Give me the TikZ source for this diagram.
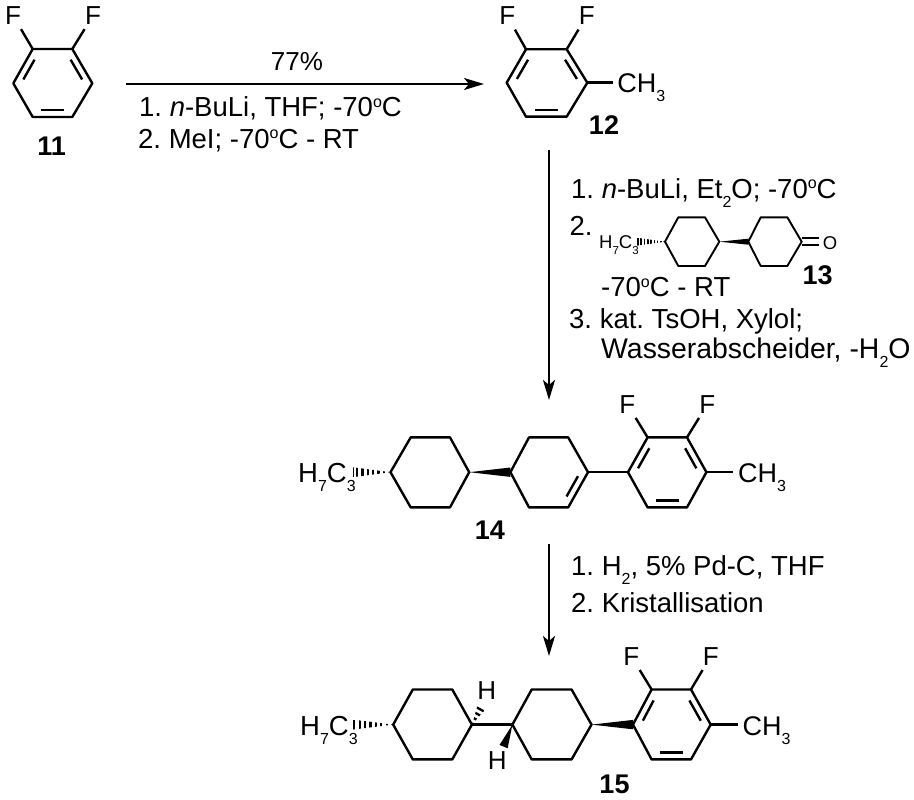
\documentclass[tikz,border=0pt]{standalone}
\usepackage{fontspec}
\setmainfont{Liberation Sans}
\usetikzlibrary{calc,arrows.meta}
\newcommand{\degC}{\raisebox{.33em}{\fontsize{16}{16}\selectfont o}C}
\newcommand{\lowsub}[1]{\raisebox{-.33em}{\fontsize{16}{16}\selectfont #1}}
\newcommand{\tinysub}[1]{\raisebox{-.33em}{\fontsize{11.5}{11.5}\selectfont #1}}
\newcommand{\innerbond}[3]{\draw [bond] ($(#1)!.14!(#2)!.2!(#3)$) -- ($(#2)!.14!(#1)!.2!(#3)$);}
\newcommand{\wedgebond}[3]{\fill ($(#1)$) -- ($(#2)!#3!90:(#1)$) -- ($(#2)!#3!-90:(#1)$) -- cycle;}
\newcommand{\hashbond}[4]{\begin{scope}
    \clip ($(#1)$) -- ($(#2)!#3!90:(#1)$) -- ($(#2)!#3!-90:(#1)$) -- cycle;
    \draw [line width = 2*#3, #4] (#1) -- (#2);
  \end{scope}}
\frenchspacing
\begin{document}
\begin{tikzpicture}[x = 1pt, y = -1pt, line width = 2.4pt,
                    bond/.style = {line width = 2.4pt, line join = round},
                    smallbond/.style = {line width = 1.9pt, line join = round},
                    hashwide/.style = {dash pattern = on 2.3pt off 3.1pt},
                    hashsmall/.style = {dash pattern = on 1.6pt off 1.7pt},
                    arrow/.style = {line width = 2.4pt, -{Stealth[length = 20pt, width = 12pt, inset = 5pt]}},
                    txt/.style = {inner sep = 0pt, anchor = base west, font = \fontsize{27.5}{27.5}\selectfont},
                    widetxt/.style = {inner sep = 0pt, anchor = base west, font = \fontsize{28.4}{28.4}\selectfont},
                    smalltxt/.style = {inner sep = 0pt, anchor = base west, font = \fontsize{18.5}{18.5}\selectfont},
                    atom/.style = {inner sep = 3.5pt, font = \fontsize{26}{26}\selectfont},
                    group/.style = {inner sep = 3.5pt, anchor = base west, font = \fontsize{27}{27}\selectfont},
                    cpd/.style = {inner sep = 0pt, font = \fontsize{27}{27}\selectfont\bfseries}]
  \useasboundingbox (0,0) rectangle (914,800);

  % 11
  \coordinate (R11a) at (32.7,49);
  \coordinate (R11b) at (72.3,49);
  \coordinate (R11c) at (92.3,83.3);
  \coordinate (R11d) at (72.3,117);
  \coordinate (R11e) at (32.7,117);
  \coordinate (R11f) at (13.3,83.3);
  \coordinate (C11) at (52.7,83.3);
  \node [atom] (F111) at (13,15.5) {F};
  \node [atom] (F112) at (93,15.5) {F};
  \node [cpd] (L11) at (51.7,146.7) {11};
  \draw [bond] (R11a)--(R11b)--(R11c)--(R11d)--(R11e)--(R11f)--cycle;
  \innerbond{R11a}{R11f}{C11}
  \innerbond{R11b}{R11c}{C11}
  \innerbond{R11d}{R11e}{C11}
  \draw [bond] (R11a)--(F111);
  \draw [bond] (R11b)--(F112);

  % 11 to 12
  \coordinate (A1s) at (126,84);
  \coordinate (A1e) at (484,84);
  \draw [arrow] (A1s)--(A1e);
  \node [inner sep = 0pt, font = \fontsize{26}{26}\selectfont] (T10) at (297,62) {77\%};
  \node [txt] (T11) at (138,117) {1. \textit{n}-BuLi, THF; -70\degC};
  \node [txt] (T12) at (137,148) {2. MeI; -70\degC{} - RT};

  % 12
  \coordinate (R12a) at (526,49.3);
  \coordinate (R12b) at (566.7,49.3);
  \coordinate (R12c) at (587.3,82.7);
  \coordinate (R12d) at (566.7,116.7);
  \coordinate (R12e) at (526,116.7);
  \coordinate (R12f) at (506.7,82.7);
  \coordinate (C12) at (547,82.7);
  \node [atom] (F121) at (507.3,16) {F};
  \node [atom] (F122) at (586.7,16) {F};
  \node [group] (M12) at (612.7,93) {CH\lowsub{3}};
  \node [cpd] (L12) at (604,125) {12};
  \draw [bond] (R12a)--(R12b)--(R12c)--(R12d)--(R12e)--(R12f)--cycle;
  \innerbond{R12a}{R12f}{C12}
  \innerbond{R12b}{R12c}{C12}
  \innerbond{R12d}{R12e}{C12}
  \draw [bond] (R12a)--(F121);
  \draw [bond] (R12b)--(F122);
  \draw [bond] (R12c)--(R12c -| M12.west);

  % 12 to 14
  \coordinate (A2s) at (549,150);
  \coordinate (A2e) at (549,400);
  \draw [arrow] (A2s)--(A2e);
  \node [txt] (T21) at (570,198) {1. \textit{n}-BuLi, Et\lowsub{2}O; -70\degC};
  \node [txt] (T22) at (568.3,235) {2.};
  \node [txt] (T23) at (600,296.7) {-70\degC{} - RT};
  \node [txt] (T24) at (568,328) {3. kat. TsOH, Xylol;};
  \node [widetxt] (T25) at (600,358) {Wasserabscheider, -H\lowsub{2}O};

  % 13
  \coordinate (P13a) at (678.3,217.3);
  \coordinate (P13b) at (705,217.3);
  \coordinate (P13c) at (719.3,241.7);
  \coordinate (P13d) at (705,266);
  \coordinate (P13e) at (678.3,266);
  \coordinate (P13f) at (665,241.7);
  \coordinate (Q13a) at (760.7,217.3);
  \coordinate (Q13b) at (787.3,217.3);
  \coordinate (Q13c) at (801.7,241.7);
  \coordinate (Q13d) at (787.3,266);
  \coordinate (Q13e) at (760.7,266);
  \coordinate (Q13f) at (748.3,241.7);
  \coordinate (H13) at (636.7,241.7);
  \node [smalltxt] (S13) at (598,248) {H\tinysub{7}C\tinysub{3}};
  \node [inner sep = 3pt, font = \fontsize{18.5}{18.5}\selectfont] (O13) at (830,242.7) {O};
  \node [cpd] (L13) at (817.7,275) {13};
  \draw [smallbond] (P13a)--(P13b)--(P13c)--(P13d)--(P13e)--(P13f)--cycle;
  \draw [smallbond] (Q13a)--(Q13b)--(Q13c)--(Q13d)--(Q13e)--(Q13f)--cycle;
  \wedgebond{P13c}{Q13f}{3pt}
  \hashbond{P13f}{H13}{4pt}{hashsmall}
  \draw [smallbond] ([yshift = 3.3pt]Q13c)--([yshift = 3.3pt]Q13c -| O13.west);
  \draw [smallbond] ([yshift = -3.3pt]Q13c)--([yshift = -3.3pt]Q13c -| O13.west);

  % 14
  \coordinate (P14a) at (410.7,437.4);
  \coordinate (P14b) at (450,437.4);
  \coordinate (P14c) at (469.2,472.2);
  \coordinate (P14d) at (450,507.4);
  \coordinate (P14e) at (410.7,507.4);
  \coordinate (P14f) at (390.5,472.2);
  \coordinate (Q14a) at (529,437.4);
  \coordinate (Q14b) at (568.2,437.4);
  \coordinate (Q14c) at (588,472.2);
  \coordinate (Q14d) at (568.2,507.4);
  \coordinate (Q14e) at (529,507.4);
  \coordinate (Q14f) at (510.4,472.2);
  \coordinate (R14a) at (647.6,437.4);
  \coordinate (R14b) at (687,437.4);
  \coordinate (R14c) at (706.4,472.2);
  \coordinate (R14d) at (687,507.4);
  \coordinate (R14e) at (647.6,507.4);
  \coordinate (R14f) at (628,472.2);
  \coordinate (C14q) at (549,472.3);
  \coordinate (C14r) at (667,472.3);
  \coordinate (H14) at (352.6,472.2);
  \node [txt] (S14) at (297,482.4) {H\lowsub{7}C\lowsub{3}};
  \node [atom] (F141) at (627.3,404.3) {F};
  \node [atom] (F142) at (707.4,404.3) {F};
  \node [group] (M14) at (733.4,482.4) {CH\lowsub{3}};
  \node [cpd] (L14) at (490,530) {14};
  \draw [bond] (P14a)--(P14b)--(P14c)--(P14d)--(P14e)--(P14f)--cycle;
  \draw [bond] (Q14a)--(Q14b)--(Q14c)--(Q14d)--(Q14e)--(Q14f)--cycle;
  \draw [bond] (R14a)--(R14b)--(R14c)--(R14d)--(R14e)--(R14f)--cycle;
  \innerbond{Q14c}{Q14d}{C14q}
  \innerbond{R14a}{R14f}{C14r}
  \innerbond{R14b}{R14c}{C14r}
  \innerbond{R14d}{R14e}{C14r}
  \wedgebond{P14c}{Q14f}{4.7pt}
  \hashbond{P14f}{H14}{5pt}{hashwide}
  \draw [bond] (Q14c)--(R14f);
  \draw [bond] (R14a)--(F141);
  \draw [bond] (R14b)--(F142);
  \draw [bond] (R14c)--(R14c -| M14.west);

  % 14 to 15
  \coordinate (A3s) at (549,544);
  \coordinate (A3e) at (549,656);
  \draw [arrow] (A3s)--(A3e);
  \node [txt] (T31) at (570,575) {1. H\lowsub{2}, 5\% Pd-C, THF};
  \node [txt] (T32) at (570,612) {2. Kristallisation};

  % 15
  \coordinate (P15a) at (412.8,689.5);
  \coordinate (P15b) at (452.3,689.5);
  \coordinate (P15c) at (471.9,724.6);
  \coordinate (P15d) at (452.3,759.4);
  \coordinate (P15e) at (412.8,759.4);
  \coordinate (P15f) at (393.2,724.6);
  \coordinate (Q15a) at (531.7,689.5);
  \coordinate (Q15b) at (571.6,689.5);
  \coordinate (Q15c) at (591.5,724.6);
  \coordinate (Q15d) at (571.6,759.4);
  \coordinate (Q15e) at (531.7,759.4);
  \coordinate (Q15f) at (512.4,724.6);
  \coordinate (R15a) at (651.6,689.5);
  \coordinate (R15b) at (691,689.5);
  \coordinate (R15c) at (710.7,724.6);
  \coordinate (R15d) at (691,759.4);
  \coordinate (R15e) at (651.6,759.4);
  \coordinate (R15f) at (633,724.6);
  \coordinate (C15r) at (672,724.6);
  \coordinate (H151) at (352.6,724.6);
  \coordinate (H152) at (481.7,707);
  \coordinate (W15) at (503.6,746.6);
  \node [txt] (S15) at (299,735.4) {H\lowsub{7}C\lowsub{3}};
  \node [atom] (F151) at (631.4,656.4) {F};
  \node [atom] (F152) at (710.7,656.4) {F};
  \node [group] (M15) at (737.8,735.4) {CH\lowsub{3}};
  \node [atom] (H1) at (486.8,690.8) {H};
  \node [atom] (H2) at (497.2,761) {H};
  \node [cpd] (L15) at (614.5,784.7) {15};
  \draw [bond] (P15a)--(P15b)--(P15c)--(P15d)--(P15e)--(P15f)--cycle;
  \draw [bond] (Q15a)--(Q15b)--(Q15c)--(Q15d)--(Q15e)--(Q15f)--cycle;
  \draw [bond] (R15a)--(R15b)--(R15c)--(R15d)--(R15e)--(R15f)--cycle;
  \innerbond{R15a}{R15f}{C15r}
  \innerbond{R15b}{R15c}{C15r}
  \innerbond{R15d}{R15e}{C15r}
  \draw [bond] (P15c)--(Q15f);
  \wedgebond{Q15c}{R15f}{4.7pt}
  \wedgebond{Q15f}{W15}{4.4pt}
  \hashbond{P15f}{H151}{5pt}{hashwide}
  \hashbond{P15c}{H152}{4.5pt}{hashwide}
  \draw [bond] (R15a)--(F151);
  \draw [bond] (R15b)--(F152);
  \draw [bond] (R15c)--(R15c -| M15.west);
\end{tikzpicture}
\end{document}
